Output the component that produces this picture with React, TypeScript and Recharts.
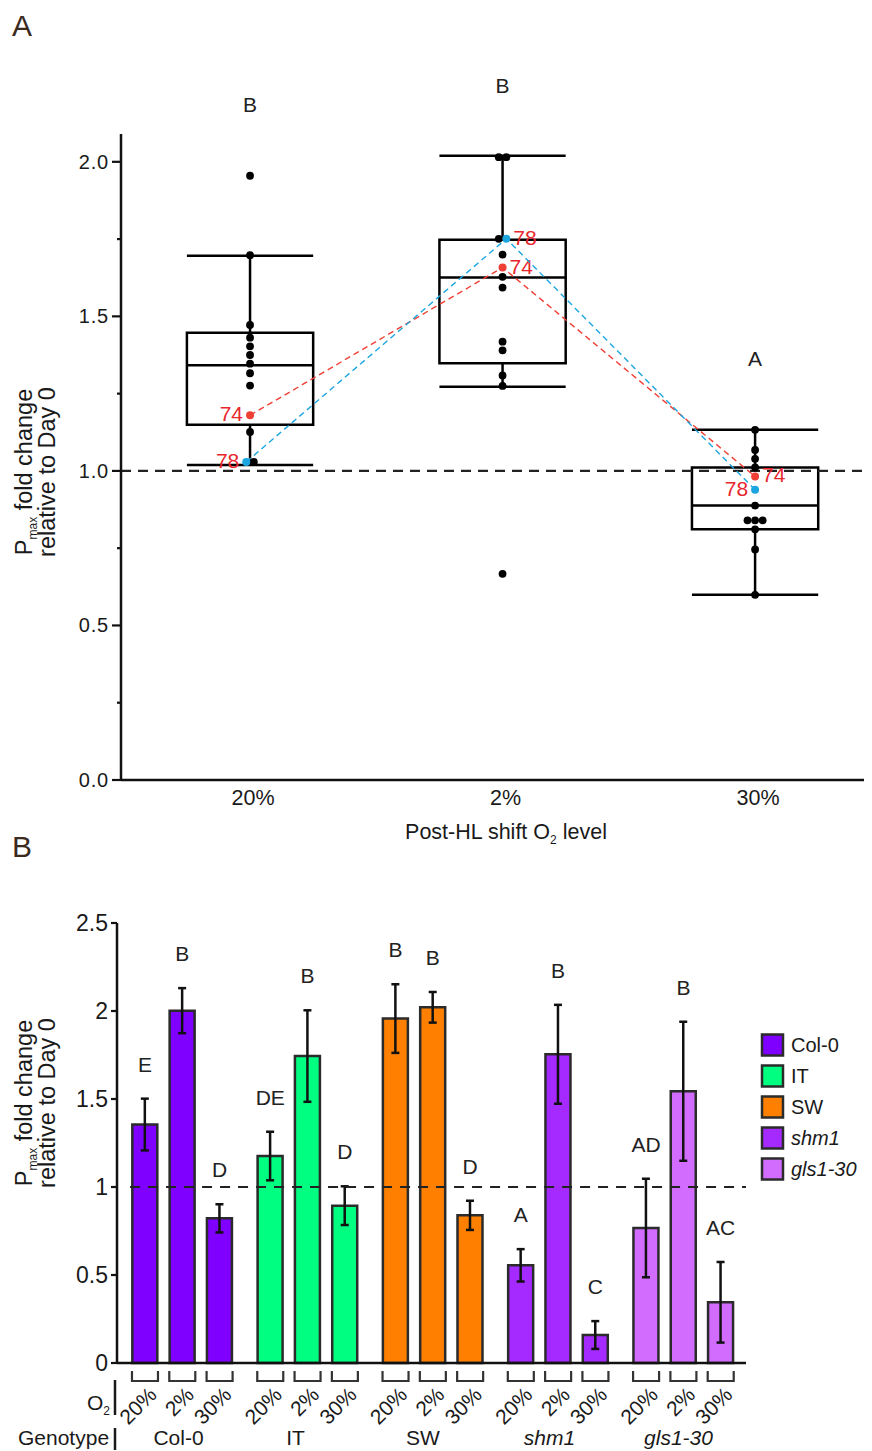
import React from 'react';
import {
  ComposedChart,
  Scatter,
  XAxis,
  YAxis,
  ReferenceArea,
  ReferenceLine,
  Bar,
  Cell,
  ErrorBar,
  Line,
} from 'recharts';

const SANS = '"Liberation Sans", Arial, Helvetica, sans-serif';
const INK = '#1a1a1a';

// ---------------- Panel A data ----------------
const shiftLevels = ['20%', '2%', '30%'];
const pointsAt20 = [1.955, 1.698, 1.472, 1.431, 1.403, 1.375, 1.347, 1.316, 1.276, 1.126, 1.029];
const pointsAt2 = [2.015, 2.015, 1.751, 1.7, 1.628, 1.593, 1.418, 1.39, 1.309, 1.275, 0.667];
const pointsAt30 = [1.133, 1.068, 1.039, 1.011, 0.888, 0.84, 0.84, 0.84, 0.811, 0.746, 0.599];
const plant74 = [1.18, 1.658, 0.982];
const plant78 = [1.029, 1.751, 0.939];
const whiskerHigh = [1.696, 2.02, 1.133];
const quartile3 = [1.447, 1.748, 1.011];
const medians = [1.342, 1.626, 0.888];
const quartile1 = [1.149, 1.348, 0.811];
const whiskerLow = [1.019, 1.272, 0.599];
const lettersA = ['B', 'B', 'A'];
const yTicksA = [0, 0.25, 0.5, 0.75, 1, 1.25, 1.5, 1.75, 2];

// ---------------- Panel B data ----------------
const o2Levels = ['20%', '2%', '30%'];
const genotypes = ['Col-0', 'IT', 'SW', 'shm1', 'gls1-30'];
const col0Mean = [1.355, 2.002, 0.822];
const col0Err = [0.147, 0.128, 0.08];
const itMean = [1.176, 1.744, 0.894];
const itErr = [0.138, 0.26, 0.11];
const swMean = [1.957, 2.021, 0.839];
const swErr = [0.195, 0.087, 0.083];
const shm1Mean = [0.555, 1.754, 0.159];
const shm1Err = [0.092, 0.281, 0.079];
const glsMean = [0.767, 1.544, 0.345];
const glsErr = [0.28, 0.395, 0.229];
const col0Letters = ['E', 'B', 'D'];
const itLetters = ['DE', 'B', 'D'];
const swLetters = ['B', 'B', 'D'];
const shm1Letters = ['A', 'B', 'C'];
const glsLetters = ['AD', 'B', 'AC'];
const yTicksB = [0, 0.5, 1, 1.5, 2, 2.5];

// ---------------- styles ----------------
const genotypeColors = ['#7f00ff', '#00ff80', '#ff8000', '#a52aff', '#d16cff'];
const genotypeItalic = [false, false, false, true, true];
const RED = '#ef4036';
const BLUE = '#1ca6df';
const LABEL_RED = '#e8262d';
const HALF_BOX = 0.25;
const JITTER = 0.03;
const coloredSide = [-1, 1, 1];
const label74Side = [-1, 1, 1];
const label78Side = [-1, 1, -1];
const GROUP_STEP = 3.358;

// ---------------- derived (Panel A) ----------------
type Dot = { x: number; y: number; kind: 'k' | 'r' | 'b' };
const dotsA: Dot[] = [];
[pointsAt20, pointsAt2, pointsAt30].forEach((vals, g) => {
  const items: { v: number; kind: 'k' | 'r' | 'b' }[] = [
    ...vals.map((v) => ({ v, kind: 'k' as const })),
    { v: plant74[g], kind: 'r' as const },
    { v: plant78[g], kind: 'b' as const },
  ];
  items.sort((a, b) => {
    if (b.v !== a.v) return b.v - a.v;
    const ca = a.kind === 'k' ? 0 : coloredSide[g];
    const cb = b.kind === 'k' ? 0 : coloredSide[g];
    return ca - cb;
  });
  let i = 0;
  while (i < items.length) {
    let j = i;
    while (j + 1 < items.length && Math.abs(items[j + 1].v - items[i].v) < 0.012) j++;
    const n = j - i + 1;
    for (let k = 0; k < n; k++) {
      dotsA.push({ x: g + 1 + (k - (n - 1) / 2) * JITTER, y: items[i + k].v, kind: items[i + k].kind });
    }
    i = j + 1;
  }
});
const blackDots = dotsA.filter((d) => d.kind === 'k');
const redDots = dotsA.filter((d) => d.kind === 'r');
const blueDots = dotsA.filter((d) => d.kind === 'b');
const letterAnchorsA = [pointsAt20, pointsAt2, pointsAt30].map((vals, g) => ({
  x: g + 1,
  y: Math.max(...vals, plant74[g], plant78[g]),
  letter: lettersA[g],
}));

// ---------------- derived (Panel B) ----------------
const means = [col0Mean, itMean, swMean, shm1Mean, glsMean];
const errs = [col0Err, itErr, swErr, shm1Err, glsErr];
const letters = [col0Letters, itLetters, swLetters, shm1Letters, glsLetters];
const barData = means.flatMap((m, g) =>
  m.map((v, i) => ({
    x: g * GROUP_STEP + i,
    mean: v,
    err: errs[g][i],
    top: v + errs[g][i],
    letter: letters[g][i],
    g,
    i,
  }))
);
const barXs = barData.map((d) => d.x);

// ---------------- renderers ----------------
const tickA = (p: any) => {
  const v = p.payload.value as number;
  const major = Math.abs(v * 2 - Math.round(v * 2)) < 1e-6;
  return (
    <g>
      <line x1={p.x - (major ? 9 : 4)} x2={p.x} y1={p.y} y2={p.y} stroke="#111" strokeWidth={2.2} />
      {major && (
        <text x={p.x - 12} y={p.y + 7} textAnchor="end" fontSize={20} letterSpacing={0.8} fill={INK} fontFamily={SANS}>
          {v.toFixed(1)}
        </text>
      )}
    </g>
  );
};

const shiftTick = (p: any) => {
  const idx = Math.round(p.payload.value) - 1;
  return (
    <text x={p.x + 3} y={p.y + 25} textAnchor="middle" fontSize={21.5} fill={INK} fontFamily={SANS}>
      {shiftLevels[idx]}
    </text>
  );
};

const blackShape = (p: any) => <circle cx={p.cx} cy={p.cy} r={3.9} fill="#000" />;

const markedShape = (color: string, text: string, sides: number[]) => (p: any) => {
  const g = Math.round(p.payload.x) - 1;
  const s = sides[g];
  return (
    <g>
      <circle cx={p.cx} cy={p.cy} r={4} fill={color} />
      <text
        x={p.cx + s * 7}
        y={p.cy + 6}
        textAnchor={s < 0 ? 'end' : 'start'}
        fontSize={21}
        fill={LABEL_RED}
        fontFamily={SANS}
      >
        {text}
      </text>
    </g>
  );
};

const letterShapeA = (p: any) => (
  <text x={p.cx} y={p.cy - 64} textAnchor="middle" fontSize={21} fill="#222" fontFamily={SANS}>
    {p.payload.letter}
  </text>
);

const tickB = (p: any) => {
  const v = p.payload.value as number;
  return (
    <g>
      <line x1={p.x - 6} x2={p.x} y1={p.y} y2={p.y} stroke="#111" strokeWidth={2.2} />
      <text x={p.x - 9} y={p.y + 8} textAnchor="end" fontSize={23} fill={INK} fontFamily={SANS}>
        {String(v)}
      </text>
    </g>
  );
};

const o2Tick = (p: any) => {
  const d = barData.find((b) => Math.abs(b.x - p.payload.value) < 1e-6);
  const label = d ? o2Levels[d.i] : '';
  const x = p.x;
  const y = p.y;
  return (
    <g>
      <path d={`M${x - 13},${y + 8} V${y + 18} H${x + 13} V${y + 8}`} stroke="#333" strokeWidth={2.2} fill="none" />
      <text
        x={x + 13}
        y={y + 33}
        transform={`rotate(-45 ${x + 13} ${y + 33})`}
        textAnchor="end"
        fontSize={21}
        fill={INK}
        fontFamily={SANS}
      >
        {label}
      </text>
    </g>
  );
};

const letterDotB = (p: any) => (
  <text
    key={`lt-${p.index}`}
    x={p.cx}
    y={p.cy - 27}
    textAnchor="middle"
    fontSize={21}
    fill="#222"
    fontFamily={SANS}
  >
    {p.payload.letter}
  </text>
);

const axisStyle = { stroke: '#111', strokeWidth: 2.5 };

function PanelA() {
  return (
    <ComposedChart width={864} height={845} margin={{ top: 126, right: 0, bottom: 13, left: 0 }}>
      <XAxis
        type="number"
        dataKey="x"
        domain={[0.489, 3.463]}
        ticks={[1, 2, 3]}
        interval={0}
        tickLine={false}
        tickSize={0}
        tickMargin={0}
        axisLine={axisStyle}
        tick={shiftTick}
        height={60}
      />
      <YAxis
        type="number"
        dataKey="y"
        domain={[0, 2.09]}
        ticks={yTicksA}
        interval={0}
        tickLine={false}
        tickSize={0}
        tickMargin={0}
        axisLine={axisStyle}
        tick={tickA}
        width={113}
      />
      <ReferenceLine y={1} stroke="#222" strokeWidth={2.2} strokeDasharray="10 7" />
      {quartile3.map((q3, g) => (
        <ReferenceArea
          key={`box-${g}`}
          x1={g + 1 - HALF_BOX}
          x2={g + 1 + HALF_BOX}
          y1={quartile1[g]}
          y2={q3}
          fill="#fff"
          fillOpacity={0}
          stroke="#000"
          strokeWidth={2.5}
        />
      ))}
      {medians.map((m, g) => (
        <ReferenceLine
          key={`med-${g}`}
          segment={[
            { x: g + 1 - HALF_BOX, y: m },
            { x: g + 1 + HALF_BOX, y: m },
          ]}
          stroke="#000"
          strokeWidth={2.5}
        />
      ))}
      {whiskerHigh.map((w, g) => (
        <ReferenceLine
          key={`wh-${g}`}
          segment={[
            { x: g + 1, y: quartile3[g] },
            { x: g + 1, y: w },
          ]}
          stroke="#000"
          strokeWidth={2.5}
        />
      ))}
      {whiskerLow.map((w, g) => (
        <ReferenceLine
          key={`wl-${g}`}
          segment={[
            { x: g + 1, y: quartile1[g] },
            { x: g + 1, y: w },
          ]}
          stroke="#000"
          strokeWidth={2.5}
        />
      ))}
      {whiskerHigh.map((w, g) => (
        <ReferenceLine
          key={`ch-${g}`}
          segment={[
            { x: g + 1 - HALF_BOX, y: w },
            { x: g + 1 + HALF_BOX, y: w },
          ]}
          stroke="#000"
          strokeWidth={2.5}
        />
      ))}
      {whiskerLow.map((w, g) => (
        <ReferenceLine
          key={`cl-${g}`}
          segment={[
            { x: g + 1 - HALF_BOX, y: w },
            { x: g + 1 + HALF_BOX, y: w },
          ]}
          stroke="#000"
          strokeWidth={2.5}
        />
      ))}
      <Scatter data={blackDots} dataKey="y" shape={blackShape} isAnimationActive={false} />
      <Scatter
        data={redDots}
        dataKey="y"
        line={{ stroke: RED, strokeWidth: 1.4, strokeDasharray: '6 4' }}
        lineType="joint"
        shape={markedShape(RED, '74', label74Side)}
        isAnimationActive={false}
      />
      <Scatter
        data={blueDots}
        dataKey="y"
        line={{ stroke: BLUE, strokeWidth: 1.4, strokeDasharray: '6 4' }}
        lineType="joint"
        shape={markedShape(BLUE, '78', label78Side)}
        isAnimationActive={false}
      />
      <Scatter data={letterAnchorsA} dataKey="y" shape={letterShapeA} isAnimationActive={false} />
    </ComposedChart>
  );
}

function PanelB() {
  return (
    <ComposedChart width={864} height={590} data={barData} margin={{ top: 70, right: 126, bottom: 0, left: 0 }}>
      <XAxis
        type="number"
        dataKey="x"
        domain={[-0.75, 16.11]}
        ticks={barXs}
        interval={0}
        tickLine={false}
        tickSize={0}
        tickMargin={0}
        axisLine={axisStyle}
        tick={o2Tick}
        height={80}
      />
      <YAxis
        type="number"
        domain={[0, 2.5]}
        ticks={yTicksB}
        interval={0}
        tickLine={false}
        tickSize={0}
        tickMargin={0}
        axisLine={axisStyle}
        tick={tickB}
        width={109}
      />
      <Bar dataKey="mean" barSize={25} stroke="#2b2b2b" strokeWidth={2.5} isAnimationActive={false}>
        {barData.map((d, k) => (
          <Cell key={`c-${k}`} fill={genotypeColors[d.g]} />
        ))}
        <ErrorBar dataKey="err" width={4} stroke="#111" strokeWidth={2.5} direction="y" />
      </Bar>
      <ReferenceLine
        segment={[
          { x: -0.4, y: 1 },
          { x: 16.11, y: 1 },
        ]}
        stroke="#222"
        strokeWidth={2.2}
        strokeDasharray="10 8"
      />
      <Line
        dataKey="top"
        stroke="none"
        dot={letterDotB}
        activeDot={false}
        isAnimationActive={false}
        legendType="none"
      />
    </ComposedChart>
  );
}

const groupLabelX = [170.5, 287.6, 415, 541.5, 670.5];

function Overlay() {
  const yLabel = (cy: number) => (
    <g fontFamily={SANS} fontSize={23.5} fill={INK}>
      <text transform={`translate(24, ${cy}) rotate(-90)`} textAnchor="middle">
        P
        <tspan fontSize={12} dy={5}>
          max
        </tspan>
        <tspan dy={-5}> fold change</tspan>
      </text>
      <text transform={`translate(47, ${cy}) rotate(-90)`} textAnchor="middle">
        relative to Day 0
      </text>
    </g>
  );
  return (
    <svg
      width={864}
      height={1443}
      style={{ position: 'absolute', left: 0, top: 0, pointerEvents: 'none' }}
    >
      <text x={4} y={28} fontSize={30} fill="#3b2a1e" fontFamily={SANS}>
        A
      </text>
      <text x={4} y={849} fontSize={30} fill="#3b2a1e" fontFamily={SANS}>
        B
      </text>
      {yLabel(464)}
      {yLabel(1095)}
      <text x={498} y={831} textAnchor="middle" fontSize={21.5} fill={INK} fontFamily={SANS}>
        Post-HL shift O
        <tspan fontSize={12} dy={5}>
          2
        </tspan>
        <tspan dy={-5}> level</tspan>
      </text>
      <text x={102} y={1402} textAnchor="end" fontSize={21} fill={INK} fontFamily={SANS}>
        O
        <tspan fontSize={12} dy={5}>
          2
        </tspan>
      </text>
      <line x1={107} x2={107} y1={1372} y2={1407} stroke={INK} strokeWidth={2.5} />
      <text x={10} y={1437} fontSize={21} fill={INK} fontFamily={SANS}>
        Genotype
      </text>
      <line x1={107} x2={107} y1={1420} y2={1442} stroke={INK} strokeWidth={2.5} />
      {genotypes.map((name, g) => (
        <text
          key={name}
          x={groupLabelX[g]}
          y={1437}
          textAnchor="middle"
          fontSize={21}
          fontStyle={genotypeItalic[g] ? 'italic' : 'normal'}
          fill={INK}
          fontFamily={SANS}
        >
          {name}
        </text>
      ))}
      {genotypes.map((name, g) => (
        <g key={`lg-${name}`}>
          <rect
            x={754}
            y={1037 + 31 * g - 10.5}
            width={21}
            height={21}
            fill={genotypeColors[g]}
            stroke="#2b2b2b"
            strokeWidth={2.5}
          />
          <text
            x={783}
            y={1037 + 31 * g + 7}
            fontSize={20}
            fontStyle={genotypeItalic[g] ? 'italic' : 'normal'}
            fill={INK}
            fontFamily={SANS}
          >
            {name}
          </text>
        </g>
      ))}
    </svg>
  );
}

export default function App() {
  return (
    <div style={{ position: 'relative', width: 864, height: 1443, background: '#fff' }}>
      <div style={{ position: 'absolute', left: 0, top: 0 }}>
        <PanelA />
      </div>
      <div style={{ position: 'absolute', left: 0, top: 845 }}>
        <PanelB />
      </div>
      <Overlay />
    </div>
  );
}
